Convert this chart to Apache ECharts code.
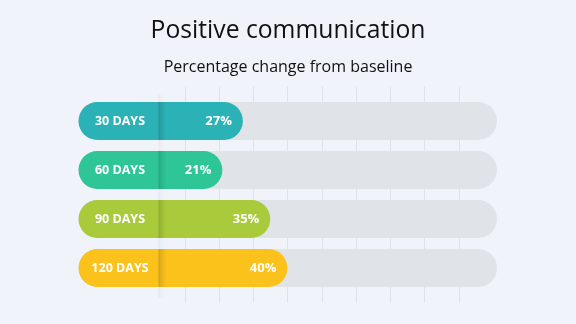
<!DOCTYPE html>
<html>
<head>
<meta charset="utf-8">
<script src="https://cdn.jsdelivr.net/npm/echarts@6/dist/echarts.min.js"></script>
<style>
html,body{margin:0;padding:0;background:#F0F3FA;}
#chart{width:576px;height:324px;}
</style>
</head>
<body>
<div id="chart"></div>
<script>
const titleText = 'Positive communication';
const subtitleText = 'Percentage change from baseline';
const categories = ['30 DAYS', '60 DAYS', '90 DAYS', '120 DAYS'];
const values = [27, 21, 35, 40];
const colors = ['#2BB2B6', '#2EC597', '#A9CB3B', '#FBC21C'];
const gridTicks = [10, 20, 30, 40, 50, 60, 70, 80, 90];
const axisMin = -21;
const axisMax = 101.2;

const chart = echarts.init(document.getElementById('chart'), null, {renderer: 'canvas'});
const FONT = '"Open Sans", sans-serif';

const barData = values.map((v, i) => [v, i]);

function shadowFill(a) {
  return new echarts.graphic.LinearGradient(0, 0, 1, 0, [
    {offset: 0, color: 'rgba(0,0,0,' + a + ')'},
    {offset: 0.3, color: 'rgba(0,0,0,' + (a * 0.5) + ')'},
    {offset: 1, color: 'rgba(0,0,0,0)'}
  ]);
}

const option = {
  backgroundColor: '#F0F3FA',
  animation: false,
  title: [
    {text: titleText, left: 'center', top: 13,
     textStyle: {fontFamily: FONT, fontSize: 24.7, fontWeight: 'normal', color: '#111'}},
    {text: subtitleText, left: 'center', top: 54,
     textStyle: {fontFamily: FONT, fontSize: 16, fontWeight: 'normal', color: '#111'}}
  ],
  grid: {left: 78.5, right: 79, top: 96.5, bottom: 31.5},
  xAxis: {type: 'value', min: axisMin, max: axisMax, show: false},
  yAxis: {type: 'category', data: categories, inverse: true, show: false},
  series: [
    {
      type: 'custom',
      z: 1,
      data: gridTicks.map(t => [t]),
      encode: {x: 0},
      renderItem: function (params, api) {
        const cs = params.coordSys;
        const x = Math.round(api.coord([api.value(0), 0])[0]) + 0.5;
        return {
          type: 'line',
          shape: {x1: x, y1: cs.y - 10, x2: x, y2: cs.y + cs.height + 10},
          style: {stroke: '#DFE2EA', lineWidth: 1}
        };
      }
    },
    {
      type: 'custom',
      z: 2,
      data: barData,
      encode: {x: 0, y: 1},
      renderItem: function (params, api) {
        const idx = api.value(1);
        const v = api.value(0);
        const h = 38;
        const c0 = api.coord([axisMin, idx]);
        const cEnd = api.coord([axisMax, idx]);
        const cVal = api.coord([v, idx]);
        const y = c0[1] - h / 2;
        const sx = c0[0] + 80;
        return {
          type: 'group',
          children: [
            {type: 'rect', shape: {x: c0[0], y: y, width: cEnd[0] - c0[0], height: h, r: h / 2},
             style: {fill: '#E0E3E7'}},
            {type: 'rect', shape: {x: c0[0], y: y, width: cVal[0] - c0[0], height: h, r: h / 2},
             style: {fill: colors[idx]}},
            {type: 'rect', shape: {x: sx, y: y, width: 8, height: h},
             style: {fill: shadowFill(0.17)}},
            {type: 'text', style: {text: categories[idx], x: c0[0] + 41.5, y: c0[1],
              align: 'center', verticalAlign: 'middle', fill: '#fff',
              font: 'bold 12.5px ' + FONT}},
            {type: 'text', style: {text: v + '%', x: cVal[0] - 11, y: c0[1],
              align: 'right', verticalAlign: 'middle', fill: '#fff',
              font: 'bold 13px ' + FONT}}
          ]
        };
      }
    }
  ],
  graphic: [
    {type: 'rect', z: 0, shape: {x: 158.5, y: 95, width: 6, height: 203},
     style: {fill: shadowFill(0.05)}}
  ]
};
chart.setOption(option);
</script>
</body>
</html>
